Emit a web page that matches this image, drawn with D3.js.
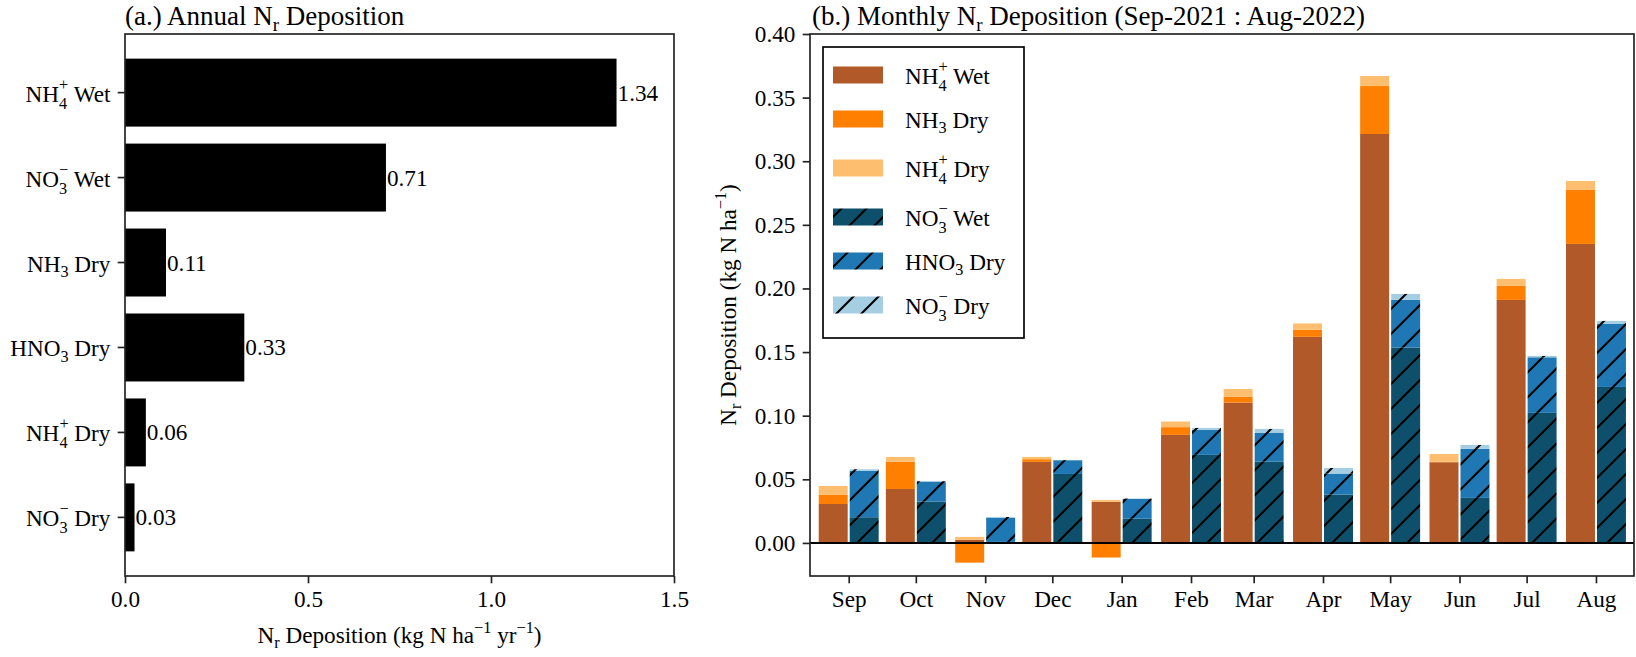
<!DOCTYPE html>
<html>
<head>
<meta charset="utf-8">
<script src="https://cdn.jsdelivr.net/npm/d3@7"></script>
<style>
  body { margin: 0; background: #fff; }
  svg { display: block; }
</style>
</head>
<body>
<div id="chart"></div>
<script>
// ---- data ----
const annualCats = ["NH4+ Wet", "NO3- Wet", "NH3 Dry", "HNO3 Dry", "NH4+ Dry", "NO3- Dry"];
const annualValues = [1.343, 0.713, 0.112, 0.326, 0.057, 0.026];

const months = ["Sep", "Oct", "Nov", "Dec", "Jan", "Feb", "Mar", "Apr", "May", "Jun", "Jul", "Aug"];
const nh4Wet  = [0.0306, 0.0424, 0.0024, 0.0637, 0.0324, 0.0849, 0.1103, 0.1620, 0.3214, 0.0634, 0.1910, 0.2350];
const nh3Dry  = [0.0071, 0.0215, -0.0155, 0.0021, -0.0115, 0.0061, 0.0047, 0.0055, 0.0377, 0.0005, 0.0110, 0.0424];
const nh4Dry  = [0.0071, 0.0037, 0.0023, 0.0018, 0.0014, 0.0044, 0.0060, 0.0050, 0.0079, 0.0060, 0.0055, 0.0071];
const no3Wet  = [0.0202, 0.0325, 0.0008, 0.0542, 0.0190, 0.0692, 0.0639, 0.0380, 0.1535, 0.0354, 0.1022, 0.1226];
const hno3Dry = [0.0364, 0.0157, 0.0188, 0.0108, 0.0156, 0.0196, 0.0225, 0.0165, 0.0375, 0.0385, 0.0437, 0.0495];
const no3Dry  = [0.0013, 0.0005, 0.0008, 0.0002, 0.0003, 0.0016, 0.0032, 0.0044, 0.0047, 0.0031, 0.0011, 0.0024];

const leftTicks = [0, 0.5, 1.0, 1.5];
const rightTicks = [0, 0.05, 0.10, 0.15, 0.20, 0.25, 0.30, 0.35, 0.40];

// label pieces for sub/superscripts
const richLabels = {
    "NH4+ Wet": ["NH", {sub: "4", sup: "+"}, " Wet"],
    "NO3- Wet": ["NO", {sub: "3", sup: "\u2212"}, " Wet"],
    "NH3 Dry":  ["NH", {sub: "3"}, " Dry"],
    "HNO3 Dry": ["HNO", {sub: "3"}, " Dry"],
    "NH4+ Dry": ["NH", {sub: "4", sup: "+"}, " Dry"],
    "NO3- Dry": ["NO", {sub: "3", sup: "\u2212"}, " Dry"]
};

const FONT = "'Liberation Serif', 'Times New Roman', serif";
const FS = 23.2;
const TITLE_FS = 27;
const LW = 1.67;
const DAY = 24 * 3600 * 1000;

const W = 1636, H = 657;
const svg = d3.select("#chart").append("svg")
    .attr("width", W).attr("height", H)
    .style("font-family", FONT);

// writes text made of plain pieces and sub/sup pieces
function rich(textSel, parts, fs) {
    let shift = 0, pendingDx = 0;
    parts.forEach(p => {
        if (typeof p === "string") {
            textSel.append("tspan").attr("dy", -shift).attr("dx", pendingDx)
                .style("font-size", fs + "px").text(p);
            shift = 0; pendingDx = 0;
        } else {
            let small = fs * 0.7, subLen = 0, supLen = 0;
            if (p.sub) {
                let target = p.sup ? 0.30 * fs : 0.22 * fs;
                let t = textSel.append("tspan").attr("dy", target - shift).attr("dx", pendingDx)
                    .style("font-size", small + "px").text(p.sub);
                shift = target; pendingDx = 0;
                subLen = t.node().getComputedTextLength();
            }
            if (p.sup) {
                let target = p.sub ? -0.52 * fs : -0.42 * fs;
                let t = textSel.append("tspan").attr("dy", target - shift).attr("dx", pendingDx - subLen)
                    .style("font-size", small + "px").text(p.sup);
                shift = target; pendingDx = 0;
                supLen = t.node().getComputedTextLength();
                pendingDx = Math.max(0, subLen - supLen);
            }
        }
    });
    return textSel;
}

// hatch patterns
const defs = svg.append("defs");
function hatch(id, color) {
    let pat = defs.append("pattern").attr("id", id)
        .attr("patternUnits", "userSpaceOnUse").attr("width", 25).attr("height", 25);
    pat.append("rect").attr("width", 25).attr("height", 25).attr("fill", color);
    pat.append("path").attr("d", "M0,25 L25,0 M-3,3 L3,-3 M22,28 L28,22")
        .attr("stroke", "#000").attr("stroke-width", 2.08);
}
hatch("h-no3wet", "#0e4f6b");
hatch("h-hno3", "#1f78b4");
hatch("h-no3dry", "#a6cee3");

/* * * * * * * * * * * * * *
*   (a.) annual bar chart  *
* * * * * * * * * * * * * */
const A = {left: 125, right: 674, top: 34, bottom: 576};

let xA = d3.scaleLinear().domain([0, 1.5]).range([A.left, A.right]);
let yA = d3.scaleBand().domain(annualCats).range([A.top, A.bottom])
    .paddingInner(0.2).paddingOuter(0.29);

let gA = svg.append("g");

gA.selectAll(".abar")
    .data(annualCats)
    .enter().append("rect")
    .attr("class", "abar")
    .attr("x", xA(0))
    .attr("y", d => yA(d))
    .attr("width", (d, i) => xA(annualValues[i]) - xA(0))
    .attr("height", yA.bandwidth())
    .attr("fill", "#000");

gA.selectAll(".aval")
    .data(annualCats)
    .enter().append("text")
    .attr("class", "aval")
    .attr("x", (d, i) => xA(annualValues[i]) + 1)
    .attr("y", d => yA(d) + yA.bandwidth() / 2 + 8)
    .style("font-size", FS + "px")
    .text((d, i) => annualValues[i].toFixed(2));

// frame
gA.append("rect")
    .attr("x", A.left).attr("y", A.top)
    .attr("width", A.right - A.left).attr("height", A.bottom - A.top)
    .attr("fill", "none").attr("stroke", "#222").attr("stroke-width", LW);

// x axis
let xAxisA = d3.axisBottom(xA).tickValues(leftTicks).tickFormat(d3.format(".1f"))
    .tickSize(7.3).tickPadding(7);
let gxA = gA.append("g").attr("transform", `translate(0,${A.bottom})`).call(xAxisA);
gxA.select(".domain").remove();
gxA.selectAll("line").attr("stroke", "#222").attr("stroke-width", LW);
gxA.selectAll("text").style("font-size", FS + "px").style("font-family", FONT).attr("fill", "#000");

// y axis ticks + rich labels
annualCats.forEach(c => {
    let cy = yA(c) + yA.bandwidth() / 2;
    gA.append("line").attr("x1", A.left - 7.3).attr("x2", A.left)
        .attr("y1", cy).attr("y2", cy).attr("stroke", "#222").attr("stroke-width", LW);
    let parts = richLabels[c];
    let hasSup = parts.some(p => p.sup), hasSub = parts.some(p => p.sub);
    let off = hasSup ? 9 : (hasSub ? 6 : 8);
    rich(gA.append("text").attr("x", A.left - 7.3 - 7.3).attr("y", cy + off)
        .attr("text-anchor", "end"), parts, FS);
});

// title and axis label
rich(gA.append("text").attr("x", A.left).attr("y", 25),
    ["(a.) Annual N", {sub: "r"}, " Deposition"], TITLE_FS);
rich(gA.append("text").attr("x", (A.left + A.right) / 2).attr("y", 643).attr("text-anchor", "middle"),
    ["N", {sub: "r"}, " Deposition (kg N ha", {sup: "\u22121"}, " yr", {sup: "\u22121"}, ")"], FS);

/* * * * * * * * * * * * * *
*   (b.) monthly stacks    *
* * * * * * * * * * * * * */
const B = {left: 810, right: 1634, top: 34, bottom: 576};

let dates = months.map((m, i) => new Date(Date.UTC(2021, 8 + i, 1)));

let xB = d3.scaleUtc()
    .domain([new Date(+dates[0] - 17.3 * DAY), new Date(+dates[dates.length - 1] + 17 * DAY)])
    .range([B.left, B.right]);
let yB = d3.scaleLinear().domain([-0.026, 0.40]).range([B.bottom, B.top]);

let rows = dates.map((d, i) => ({
    date: d,
    nh4Wet: nh4Wet[i], nh3Dry: nh3Dry[i], nh4Dry: nh4Dry[i],
    no3Wet: no3Wet[i], hno3Dry: hno3Dry[i], no3Dry: no3Dry[i]
}));

let nhKeys = ["nh4Wet", "nh3Dry", "nh4Dry"];
let noKeys = ["no3Wet", "hno3Dry", "no3Dry"];
let fills = {
    nh4Wet: "#b15928", nh3Dry: "#ff7f00", nh4Dry: "#fdbf6f",
    no3Wet: "url(#h-no3wet)", hno3Dry: "url(#h-hno3)", no3Dry: "url(#h-no3dry)"
};

let stackNH = d3.stack().keys(nhKeys).offset(d3.stackOffsetDiverging)(rows);
let stackNO = d3.stack().keys(noKeys).offset(d3.stackOffsetDiverging)(rows);

let gB = svg.append("g");

// reduced-N bars left of each month tick, oxidised-N bars right of it
function drawStack(series, d0, d1) {
    gB.append("g").selectAll("g")
        .data(series)
        .enter().append("g")
        .attr("fill", s => fills[s.key])
        .selectAll("rect")
        .data(s => s)
        .enter().append("rect")
        .attr("x", d => xB(new Date(+d.data.date + d0 * DAY)))
        .attr("width", d => xB(new Date(+d.data.date + d1 * DAY)) - xB(new Date(+d.data.date + d0 * DAY)))
        .attr("y", d => yB(Math.max(d[0], d[1])))
        .attr("height", d => Math.abs(yB(d[0]) - yB(d[1])));
}
drawStack(stackNH, -13.4, -0.45);
drawStack(stackNO, 0.45, 13.4);

// zero line
gB.append("line")
    .attr("x1", B.left).attr("x2", B.right)
    .attr("y1", yB(0)).attr("y2", yB(0))
    .attr("stroke", "#000").attr("stroke-width", 2);

// frame
gB.append("rect")
    .attr("x", B.left).attr("y", B.top)
    .attr("width", B.right - B.left).attr("height", B.bottom - B.top)
    .attr("fill", "none").attr("stroke", "#222").attr("stroke-width", LW);

let xAxisB = d3.axisBottom(xB).tickValues(dates).tickFormat(d3.utcFormat("%b"))
    .tickSize(7.3).tickPadding(7);
let gxB = gB.append("g").attr("transform", `translate(0,${B.bottom})`).call(xAxisB);
gxB.select(".domain").remove();

let yAxisB = d3.axisLeft(yB).tickValues(rightTicks).tickFormat(d3.format(".2f"))
    .tickSize(7.3).tickPadding(7.3);
let gyB = gB.append("g").attr("transform", `translate(${B.left},0)`).call(yAxisB);
gyB.select(".domain").remove();

[gxB, gyB].forEach(g => {
    g.selectAll("line").attr("stroke", "#222").attr("stroke-width", LW);
    g.selectAll("text").style("font-size", FS + "px").style("font-family", FONT).attr("fill", "#000");
});

rich(gB.append("text").attr("x", B.left + 2).attr("y", 25),
    ["(b.) Monthly N", {sub: "r"}, " Deposition (Sep-2021 : Aug-2022)"], TITLE_FS);

rich(gB.append("text").attr("text-anchor", "middle")
        .attr("transform", `translate(736,${(B.top + B.bottom) / 2}) rotate(-90)`),
    ["N", {sub: "r"}, " Deposition (kg N ha", {sup: "\u22121"}, ")"], FS);

// legend
let legendKeys = ["nh4Wet", "nh3Dry", "nh4Dry", "no3Wet", "hno3Dry", "no3Dry"];
let legendNames = ["NH4+ Wet", "NH3 Dry", "NH4+ Dry", "NO3- Wet", "HNO3 Dry", "NO3- Dry"];
let legendRows = [75, 119, 168, 217, 261, 305];

let gL = gB.append("g");
gL.append("rect")
    .attr("x", 823).attr("y", 47).attr("width", 201).attr("height", 291)
    .attr("fill", "#fff").attr("stroke", "#000").attr("stroke-width", LW);

legendKeys.forEach((k, i) => {
    let cy = legendRows[i];
    gL.append("rect").attr("x", 833).attr("y", cy - 8.5)
        .attr("width", 50).attr("height", 17).attr("fill", fills[k]);
    rich(gL.append("text").attr("x", 905).attr("y", cy + 9), richLabels[legendNames[i]], FS);
});
</script>
</body>
</html>
